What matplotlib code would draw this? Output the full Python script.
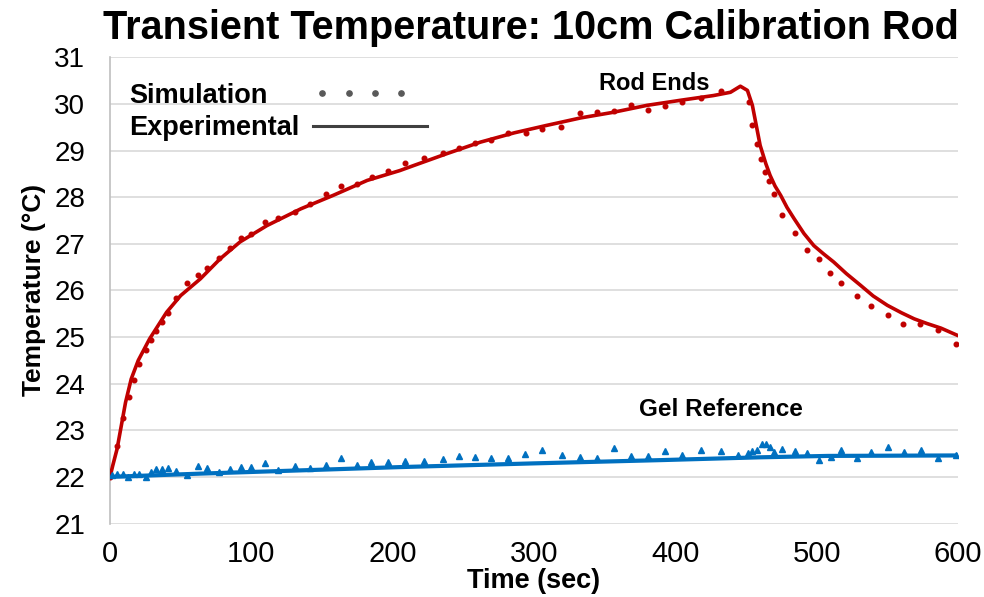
import numpy as np
import matplotlib
matplotlib.use("Agg")
import matplotlib.pyplot as plt
from matplotlib import font_manager
from matplotlib.lines import Line2D
from matplotlib.legend_handler import HandlerLine2D

# ---------------- data ----------------
rod_exp_t = [0, 2, 5, 8, 11, 15, 20, 28, 40, 50, 64, 78, 92, 111, 135, 158, 182, 205,
             215, 238, 262, 286, 309, 333, 356, 380, 404, 427, 439, 446, 451, 454.5,
             460, 464, 467, 470.5, 474.5, 479, 484, 491, 498, 505, 512, 521, 531, 540,
             550, 560, 569, 578, 588, 600]
rod_exp_T = [22.0, 22.25, 22.6, 23.1, 23.6, 24.1, 24.5, 24.96, 25.53, 25.89, 26.25, 26.68,
             27.04, 27.39, 27.75, 28.04, 28.36, 28.57, 28.68, 28.93, 29.18, 29.38, 29.54,
             29.70, 29.82, 29.97, 30.08, 30.18, 30.25, 30.38, 30.29, 29.97, 29.11, 28.72,
             28.47, 28.24, 28.04, 27.78, 27.54, 27.22, 26.96, 26.78, 26.61, 26.36, 26.11,
             25.88, 25.68, 25.52, 25.39, 25.29, 25.19, 25.03]

rod_sim_t = [0, 4.7, 9, 13.5, 17.2, 20.8, 25.5, 28.8, 32.6, 36.6, 41, 47, 54.7, 62.5, 68.9,
             77, 85, 93, 99.9, 109.8, 119.2, 131, 141.4, 153, 163.6, 174.7, 185.3, 197,
             209, 222, 235.6, 247, 258.5, 269.6, 281.6, 294, 305.7, 319.4, 332.4, 344.6,
             356.4, 368.7, 380.8, 392.6, 404.9, 417.8, 432, 452, 454, 457.5, 460.3, 463.4,
             466.2, 469.8, 475.2, 484.6, 493.1, 501.4, 509.7, 517.5, 528.3, 538.5, 550.5,
             561.4, 573.2, 585.5, 598.6]
rod_sim_T = [22.0, 22.66, 23.27, 23.72, 24.08, 24.42, 24.72, 24.93, 25.13, 25.33, 25.52,
             25.83, 26.16, 26.32, 26.48, 26.70, 26.90, 27.12, 27.21, 27.47, 27.56, 27.68,
             27.86, 28.06, 28.23, 28.29, 28.44, 28.56, 28.73, 28.85, 28.95, 29.05, 29.16,
             29.22, 29.37, 29.38, 29.47, 29.51, 29.80, 29.83, 29.85, 29.98, 29.88, 29.95,
             30.04, 30.13, 30.28, 30.04, 29.54, 29.15, 28.81, 28.55, 28.34, 28.06, 27.62,
             27.24, 26.86, 26.67, 26.37, 26.16, 25.88, 25.66, 25.47, 25.28, 25.28, 25.15,
             24.85]

gel_exp_t = [0, 64, 135, 205, 300, 390, 460, 508, 600]
gel_exp_T = [22.0, 22.07, 22.14, 22.21, 22.29, 22.36, 22.42, 22.45, 22.46]

gel_sim_t = [1.2, 4.7, 9, 13, 17.2, 20.8, 25.5, 28.8, 32.6, 36.6, 41, 46.7, 54.7, 62.5,
             68.9, 77.2, 85, 92.8, 99.6, 109.8, 119.2, 131, 141.6, 152.8, 163.6, 174.7,
             184.8, 196.6, 208.9, 222, 235.6, 247, 258.5, 269.6, 281.6, 293.7, 305.7,
             319.6, 332.4, 344.6, 356.4, 368.7, 380.8, 392.6, 404.9, 417.8, 432, 444.5,
             451.6, 454.4, 458, 461, 463.8, 466.7, 469.8, 475.7, 484.6, 493.4, 501.6,
             509.9, 517.2, 528.6, 538.5, 550.8, 561.9, 573.7, 585.5, 598.6]
gel_sim_T = [22.04, 22.06, 22.06, 21.99, 22.06, 22.06, 21.99, 22.10, 22.17, 22.16, 22.19,
             22.12, 22.04, 22.23, 22.19, 22.11, 22.17, 22.22, 22.21, 22.30, 22.14, 22.24,
             22.20, 22.26, 22.40, 22.26, 22.32, 22.32, 22.35, 22.35, 22.38, 22.44, 22.42,
             22.40, 22.41, 22.50, 22.58, 22.47, 22.43, 22.41, 22.61, 22.44, 22.44, 22.55,
             22.46, 22.58, 22.55, 22.47, 22.51, 22.55, 22.58, 22.71, 22.71, 22.64, 22.53,
             22.60, 22.55, 22.51, 22.36, 22.42, 22.58, 22.41, 22.53, 22.64, 22.53, 22.57,
             22.41, 22.47]

x_ticks = [0, 100, 200, 300, 400, 500, 600]
y_ticks = [21, 22, 23, 24, 25, 26, 27, 28, 29, 30, 31]

title = "Transient Temperature: 10cm Calibration Rod"
xlabel = "Time (sec)"
ylabel = "Temperature (°C)"
legend_labels = ["Simulation", "Experimental"]
annot_rod = ("Rod Ends", 385, 30.43)
annot_gel = ("Gel Reference", 432, 23.44)

# ---------------- style ----------------
RED = "#C00000"
BLUE = "#0070C0"
GRID = "#D9D9D9"

names = {f.name for f in font_manager.fontManager.ttflist}
BASE = "Liberation Sans" if "Liberation Sans" in names else "DejaVu Sans"
plt.rcParams["font.family"] = [BASE, "DejaVu Sans"]

fig = plt.figure(figsize=(9.84, 5.97), dpi=100)
ax = fig.add_axes([0.1118, 0.1231, 0.8618, 0.7809])

ax.plot(rod_exp_t, rod_exp_T, color=RED, lw=2.6, solid_capstyle="round",
        solid_joinstyle="round", zorder=3)
ax.plot(gel_exp_t, gel_exp_T, color=BLUE, lw=3.0, solid_capstyle="round", zorder=3)
ax.plot(rod_sim_t, rod_sim_T, ls="none", marker="o", ms=3.3, color=RED, zorder=4)
ax.plot(gel_sim_t, gel_sim_T, ls="none", marker="^", ms=4.5, color=BLUE, zorder=4)

ax.set_xlim(0, 600)
ax.set_ylim(21, 31)
ax.set_xticks(x_ticks)
ax.set_yticks(y_ticks)
ax.tick_params(length=0)
ax.tick_params(axis="y", pad=18, labelsize=20)
ax.tick_params(axis="x", pad=12, labelsize=21)
ax.grid(axis="y", color=GRID, lw=1.2)
ax.set_axisbelow(True)
for s in ["top", "right", "bottom"]:
    ax.spines[s].set_visible(False)
ax.spines["left"].set_color("#BFBFBF")
ax.spines["left"].set_linewidth(1.2)

ax.set_xlabel(xlabel, fontsize=19.5, fontweight="bold", labelpad=0)
ax.set_ylabel(ylabel, fontsize=19, fontweight="bold", labelpad=6)
fig.suptitle(title, x=0.54, y=0.985, fontsize=28.5, fontweight="bold")

ax.text(annot_rod[1], annot_rod[2], annot_rod[0], fontsize=17, fontweight="bold",
        ha="center", va="center")
ax.text(annot_gel[1], annot_gel[2], annot_gel[0], fontsize=17.5, fontweight="bold",
        ha="center", va="center")


class FixedDots(HandlerLine2D):
    def get_xdata(self, legend, xdescent, ydescent, width, height, fontsize):
        xd = -xdescent + width * np.array([0.36, 0.59, 0.82, 1.05])
        return xd, xd


sim_handle = Line2D([], [], ls="none", marker="o", ms=3.8, color="#595959")
exp_handle = Line2D([], [], color="#404040", lw=2.2)
leg = ax.legend([sim_handle, exp_handle], legend_labels, loc="upper left",
                bbox_to_anchor=(0.007, 0.975), frameon=False, markerfirst=False,
                handlelength=4.2, handletextpad=0.5, labelspacing=0.25, borderpad=0,
                prop={"size": 19.5, "weight": "bold"},
                handler_map={sim_handle: FixedDots(numpoints=4)})
for col in leg._legend_handle_box.get_children():
    col.align = "left"

fig.savefig("out.png", dpi=100)
